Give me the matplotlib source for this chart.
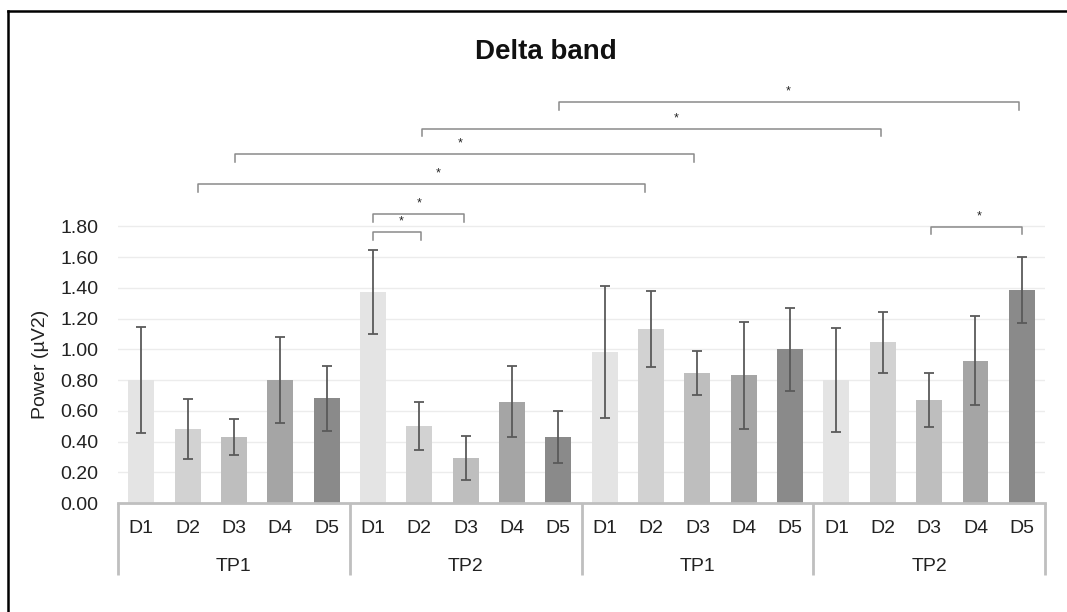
import numpy as np
import matplotlib
matplotlib.use("Agg")
import matplotlib.pyplot as plt
from matplotlib.lines import Line2D
import matplotlib.transforms as mtransforms

plt.rcParams['font.family'] = ['Liberation Sans', 'DejaVu Sans']

# --- data: mean power and SD per day, grouped by time point ---
days = ["D1", "D2", "D3", "D4", "D5"]
groups = ["TP1", "TP2", "TP1", "TP2"]
power = [0.80, 0.48, 0.43, 0.80, 0.68,
         1.37, 0.50, 0.29, 0.66, 0.43,
         0.98, 1.13, 0.845, 0.83, 1.00,
         0.80, 1.045, 0.67, 0.925, 1.385]
sd = [0.345, 0.195, 0.115, 0.278, 0.213,
      0.273, 0.155, 0.143, 0.23, 0.168,
      0.43, 0.248, 0.145, 0.346, 0.27,
      0.337, 0.20, 0.176, 0.29, 0.214]
day_colors = ['#e4e4e4', '#d2d2d2', '#bebebe', '#a5a5a5', '#8a8a8a']

# significance brackets: (start, end, height, star position)
sig_start = [5.0, 5.0, 1.23, 2.03, 6.05, 9.02, 17.03]
sig_end = [6.04, 6.97, 10.87, 11.93, 15.96, 18.94, 19.0]
sig_height = [1.763, 1.88, 2.073, 2.268, 2.435, 2.608, 1.798]
sig_star = [5.6, 6.0, 6.4, 6.88, 11.55, 13.95, 18.08]

n = len(power)
x = np.arange(n)
colors = [day_colors[i % 5] for i in range(n)]

fig = plt.figure(figsize=(10.67, 6.12), dpi=100)
ax = fig.add_axes([0.1106, 0.178, 0.8688, 0.691])

ax.bar(x, power, width=0.56, color=colors, zorder=2)
ax.errorbar(x, power, yerr=sd, fmt='none', ecolor='#5a5a5a', elinewidth=1.3,
            capsize=3.8, capthick=1.3, zorder=3)

ax.set_xlim(-0.5, n - 0.5)
ax.set_ylim(0, 2.75)
yt = np.arange(0, 1.81, 0.2)
ax.set_yticks(yt)
ax.set_yticklabels([f"{v:.2f}" for v in yt], fontsize=14, color='#222222')
for v in yt[1:]:
    ax.axhline(v, color='#ececec', lw=1, zorder=1)
ax.tick_params(axis='y', length=0, pad=14)
ax.set_xticks([])

for s in ['top', 'right', 'left']:
    ax.spines[s].set_visible(False)
ax.spines['bottom'].set_color('#bfbfbf')
ax.spines['bottom'].set_linewidth(2)

# two-level category axis
trans = ax.get_xaxis_transform()
for i in range(n):
    ax.text(i, -0.059, days[i % 5], transform=trans, ha='center', va='center',
            fontsize=14, color='#222222')
for g, name in enumerate(groups):
    ax.text(g * 5 + 2, -0.151, name, transform=trans, ha='center', va='center',
            fontsize=14, color='#222222')
for b in np.arange(-0.5, n, 5):
    ax.plot([b, b], [0, -0.170], transform=trans, color='#bfbfbf', lw=2,
            clip_on=False, solid_capstyle='butt')

ax.text(-0.084, 0.9, "Power (µV2)", rotation=90, ha='center', va='center',
        fontsize=14, color='#222222',
        transform=mtransforms.blended_transform_factory(ax.transAxes, ax.transData))

# significance brackets
drop = 0.05
for x0, x1, h, xs in zip(sig_start, sig_end, sig_height, sig_star):
    ax.plot([x0, x0, x1, x1], [h - drop, h, h, h - drop], color='#8a8a8a',
            lw=1.1, clip_on=False, zorder=4)
    ax.text(xs, h + 0.03, "*", ha='center', va='bottom', fontsize=9,
            color='#222222', clip_on=False)

fig.text(0.512, 0.915, "Delta band", ha='center', va='center', fontsize=20,
         fontweight='bold', color='#111111')

# frame lines on top and left edge
fig.add_artist(Line2D([8 / 1067, 8 / 1067], [0, 1 - 11 / 612], color='black', lw=1.8,
                      transform=fig.transFigure))
fig.add_artist(Line2D([8 / 1067, 1], [1 - 11 / 612, 1 - 11 / 612], color='black', lw=1.8,
                      transform=fig.transFigure))

fig.savefig("out.png", dpi=100)
